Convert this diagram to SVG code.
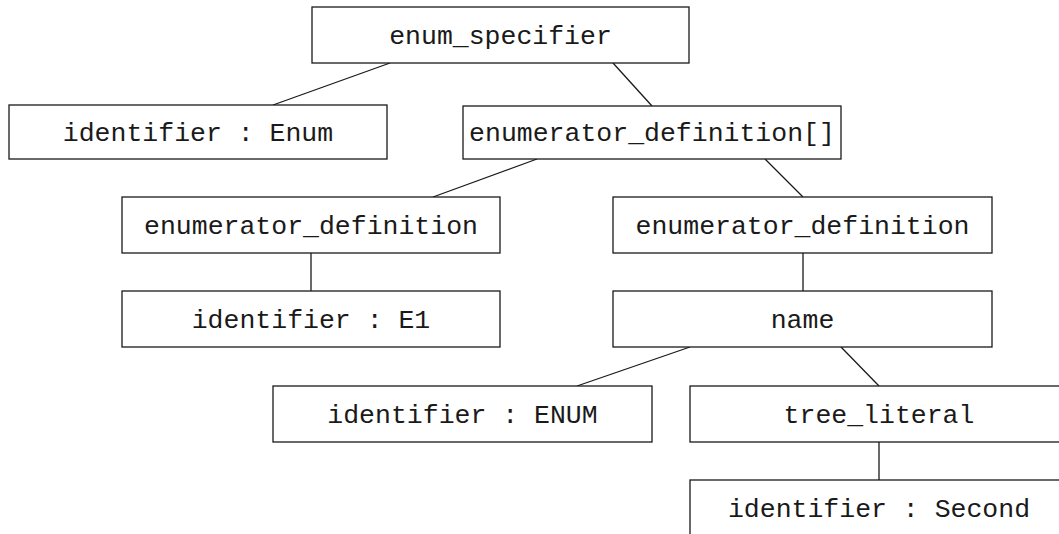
<svg xmlns="http://www.w3.org/2000/svg" width="1059" height="534" viewBox="0 0 1059 534">
<style>
.box{fill:#fff;stroke:#1a1a1a;stroke-width:1.3}
.lbl{font-family:"Liberation Mono","Courier New",monospace;font-size:26.5px;fill:#1a1a1a;text-anchor:middle}
.edge{stroke:#1a1a1a;stroke-width:1.3;fill:none}
</style>
<rect width="1059" height="534" fill="#fff"/>
<g id="connectors">
<line class="edge" x1="390" y1="63" x2="273" y2="105"/>
<line class="edge" x1="613" y1="63" x2="652" y2="106"/>
<line class="edge" x1="537" y1="159" x2="433" y2="197"/>
<line class="edge" x1="765" y1="159" x2="803" y2="197"/>
<line class="edge" x1="311" y1="253" x2="311" y2="291"/>
<line class="edge" x1="803" y1="253" x2="803" y2="291"/>
<line class="edge" x1="690" y1="347" x2="577" y2="386"/>
<line class="edge" x1="841" y1="347" x2="879" y2="386"/>
<line class="edge" x1="879" y1="442" x2="879" y2="480"/>
</g>
<g id="n_enum_specifier"><rect class="box" x="312" y="7" width="377" height="56"/><text class="lbl" x="500.5" y="44">enum_specifier</text></g>
<g id="n_identifier_enum"><rect class="box" x="9" y="105" width="378" height="54"/><text class="lbl" x="198" y="141">identifier : Enum</text></g>
<g id="n_enumerator_definition_list"><rect class="box" x="463" y="106" width="378" height="53"/><text class="lbl" x="652" y="141">enumerator_definition[]</text></g>
<g id="n_enumerator_definition_1"><rect class="box" x="122" y="197" width="378" height="56"/><text class="lbl" x="311" y="234">enumerator_definition</text></g>
<g id="n_enumerator_definition_2"><rect class="box" x="613" y="197" width="379" height="56"/><text class="lbl" x="802.5" y="234">enumerator_definition</text></g>
<g id="n_identifier_e1"><rect class="box" x="122" y="291" width="378" height="56"/><text class="lbl" x="311" y="328">identifier : E1</text></g>
<g id="n_name"><rect class="box" x="613" y="291" width="379" height="56"/><text class="lbl" x="802.5" y="328">name</text></g>
<g id="n_identifier_ENUM"><rect class="box" x="273" y="386" width="379" height="56"/><text class="lbl" x="462.5" y="423">identifier : ENUM</text></g>
<g id="n_tree_literal"><rect class="box" x="690" y="386" width="378" height="56"/><text class="lbl" x="879" y="423">tree_literal</text></g>
<g id="n_identifier_second"><rect class="box" x="690" y="480" width="378" height="56"/><text class="lbl" x="879" y="517">identifier : Second</text></g>
</svg>
